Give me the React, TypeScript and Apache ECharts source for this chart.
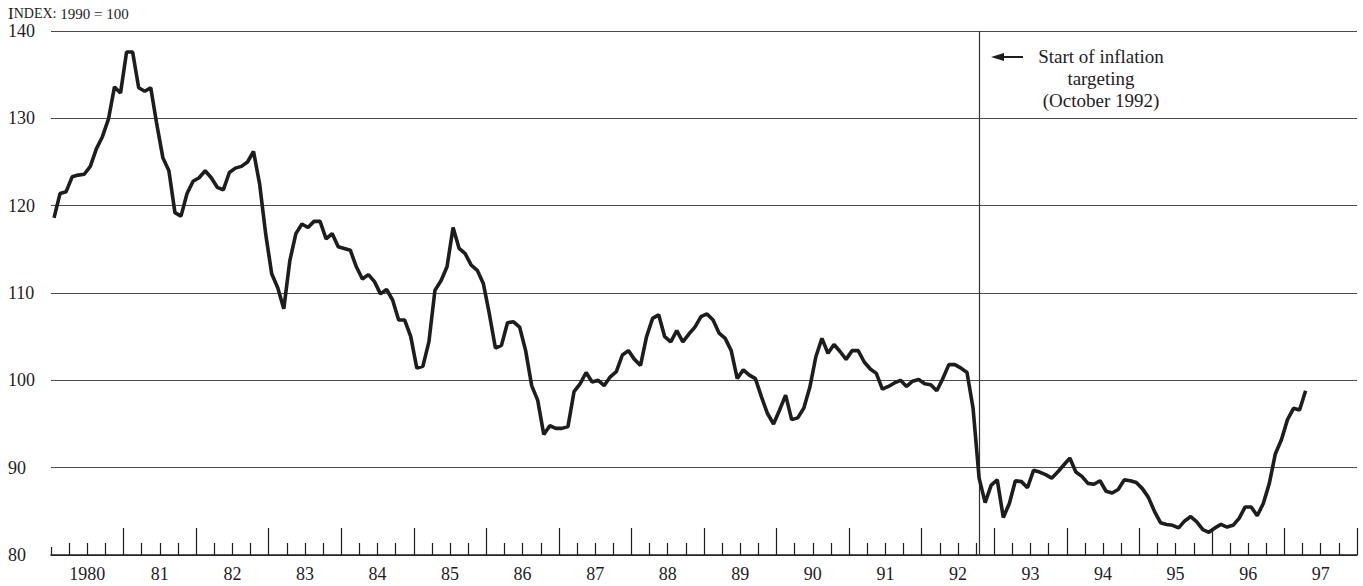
import React, { useEffect, useRef } from "react";
import * as echarts from "echarts";

const yearLabels = ["1980", "81", "82", "83", "84", "85", "86", "87", "88", "89", "90", "91", "92", "93", "94", "95", "96", "97"];
const yTicks = { min: 80, max: 140, step: 10 };
const markMonth = 153.6; // October 1992, months from Jan 1980
const annotationLines = ["Start of inflation", "targeting", "(October 1992)"];

// Monthly index values, January 1980 onward
const index1980_83 = [
  118.6, 121.4, 121.6, 123.3, 123.5, 123.6, 124.5, 126.5, 127.9, 129.9, 133.6, 132.9,
  137.6, 137.6, 133.5, 133.1, 133.5, 129.3, 125.5, 124.0, 119.2, 118.8, 121.4, 122.8,
  123.2, 124.0, 123.2, 122.1, 121.8, 123.8, 124.3, 124.5, 125.0, 126.2, 122.5, 116.8,
  112.2, 110.6, 108.2, 113.7, 116.8, 117.9, 117.5, 118.2, 118.2, 116.2, 116.8, 115.3,
];
const index1984_87 = [
  115.1, 114.9, 113.0, 111.6, 112.1, 111.3, 109.9, 110.4, 109.2, 106.9, 106.9, 105.0,
  101.4, 101.6, 104.4, 110.3, 111.4, 113.0, 117.5, 115.1, 114.5, 113.2, 112.6, 111.1,
  107.6, 103.7, 104.0, 106.6, 106.7, 106.1, 103.4, 99.4, 97.7, 93.8, 94.8, 94.5,
  94.5, 94.7, 98.7, 99.6, 100.9, 99.8, 100.0, 99.4, 100.4, 101.0, 102.9, 103.4,
];
const index1988_91 = [
  102.4, 101.7, 105.0, 107.1, 107.5, 105.0, 104.4, 105.7, 104.4, 105.3, 106.1, 107.3,
  107.6, 106.9, 105.4, 104.8, 103.4, 100.2, 101.2, 100.6, 100.2, 98.1, 96.2, 95.0,
  96.6, 98.3, 95.5, 95.7, 96.8, 99.2, 102.7, 104.8, 103.1, 104.1, 103.3, 102.4,
  103.4, 103.4, 102.1, 101.3, 100.8, 99.0, 99.3, 99.7, 100.0, 99.3, 99.9, 100.1,
];
const index1992_95 = [
  99.6, 99.5, 98.8, 100.2, 101.8, 101.8, 101.4, 100.9, 96.8, 88.8, 86.0, 88.0,
  88.6, 84.3, 85.9, 88.5, 88.4, 87.7, 89.7, 89.5, 89.2, 88.8, 89.5, 90.3,
  91.1, 89.5, 89.0, 88.2, 88.1, 88.5, 87.3, 87.1, 87.5, 88.6, 88.5, 88.3,
  87.6, 86.6, 85.0, 83.7, 83.5, 83.4, 83.1, 83.9, 84.4, 83.8, 82.9, 82.6,
];
const index1996_97 = [
  83.1, 83.5, 83.2, 83.4, 84.2, 85.5, 85.5, 84.5, 85.9, 88.2, 91.6, 93.2,
  95.5, 96.8, 96.6, 98.8,
];

const FONT = "'Liberation Serif', 'DejaVu Serif', serif";
const INK = "#1d1d1f";

export default function App() {
  const ref = useRef<HTMLDivElement>(null);

  useEffect(() => {
    if (!ref.current) return;
    const chart = echarts.init(ref.current, null, { renderer: "svg" });
    const values = [...index1980_83, ...index1984_87, ...index1988_91, ...index1992_95, ...index1996_97];
    const seriesData = values.map((v, i) => [i + 0.5, v]);
    const totalMonths = yearLabels.length * 12;

    const textX = 1101;
    const textY0 = 56;
    const lineGap = 22;

    chart.setOption({
      animation: false,
      backgroundColor: "#ffffff",
      grid: { left: 51, right: 6, top: 31, bottom: 31, containLabel: false },
      xAxis: [
        {
          type: "value",
          position: "bottom",
          min: 0,
          max: totalMonths,
          interval: 12,
          axisLine: { show: true, lineStyle: { color: INK, width: 1.5 } },
          axisTick: { show: true, inside: true, length: 27, lineStyle: { color: INK, width: 1.2 } },
          minorTick: { show: true, splitNumber: 4, length: 12, lineStyle: { color: INK, width: 1.2 } },
          axisLabel: { show: false },
          splitLine: { show: false },
        },
        {
          type: "category",
          position: "bottom",
          data: yearLabels,
          boundaryGap: true,
          axisLine: { show: false },
          axisTick: { show: false },
          axisLabel: { show: true, margin: 10, fontSize: 18, fontFamily: FONT, color: INK, interval: 0 },
          splitLine: { show: false },
        },
      ],
      yAxis: {
        type: "value",
        min: yTicks.min,
        max: yTicks.max,
        interval: yTicks.step,
        axisLine: { show: false },
        axisTick: { show: false },
        axisLabel: { show: true, align: "left", margin: 43, fontSize: 18, fontFamily: FONT, color: INK },
        splitLine: { show: true, lineStyle: { color: "#4a4a4a", width: 1.2 } },
      },
      series: [
        {
          type: "line",
          xAxisIndex: 0,
          data: seriesData,
          showSymbol: false,
          symbol: "none",
          lineStyle: { color: INK, width: 3.6 },
          markLine: {
            silent: true,
            symbol: ["none", "none"],
            label: { show: false },
            lineStyle: { color: "#333", width: 1.2, type: "solid" },
            data: [{ xAxis: markMonth }],
          },
          z: 5,
        },
      ],
      graphic: [
        {
          type: "rect",
          shape: { x: 48, y: 526, width: 6, height: 21 },
          style: { fill: "#ffffff" },
          z: 100,
        },
        {
          type: "text",
          left: 8,
          top: 5,
          style: {
            text: "{a|I}{b|NDEX:}{c| 1990 = 100}",
            rich: {
              a: { fontSize: 17, fontFamily: FONT, fill: INK },
              b: { fontSize: 14, fontFamily: FONT, fill: INK },
              c: { fontSize: 15, fontFamily: FONT, fill: INK },
            },
          },
        },
        {
          type: "line",
          shape: { x1: 1000, y1: 57, x2: 1023, y2: 57 },
          style: { stroke: INK, lineWidth: 2 },
        },
        {
          type: "polygon",
          shape: { points: [[991, 57], [1004, 53], [1004, 61]] },
          style: { fill: INK },
        },
        ...annotationLines.map((t, i) => ({
          type: "text",
          x: textX,
          y: textY0 + i * lineGap,
          style: {
            text: t,
            fontSize: 19,
            fontFamily: FONT,
            fill: INK,
            align: "center",
            verticalAlign: "middle",
          },
        })),
      ],
    });

    return () => chart.dispose();
  }, []);

  return <div ref={ref} style={{ position: "fixed", left: 0, top: 0, width: 1363, height: 586 }} />;
}
